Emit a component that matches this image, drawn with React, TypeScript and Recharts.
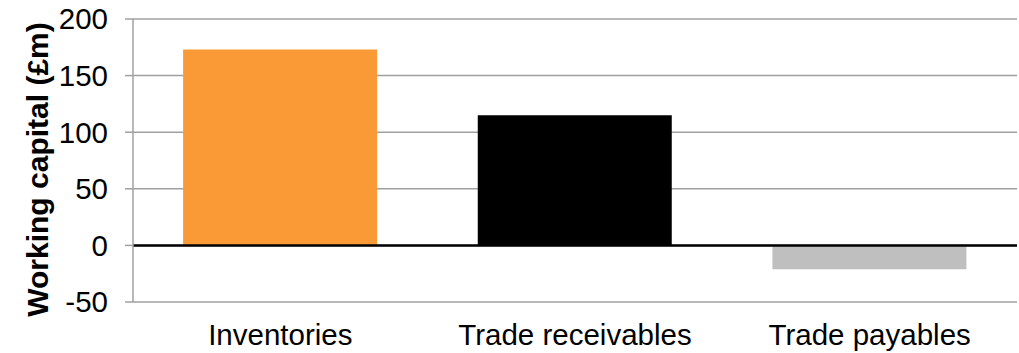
import React from "react";
import { BarChart, Bar, XAxis, YAxis, CartesianGrid, ReferenceLine, Cell, Label } from "recharts";

const categories = ["Inventories", "Trade receivables", "Trade payables"];
const values = [173, 115, -21];
const yTicks = [-50, 0, 50, 100, 150, 200];
const barColors = ["#FA9A36", "#000000", "#BFBFBF"];

const data = categories.map((name, i) => ({ name, value: values[i] }));

const FONT = "'Liberation Sans', Arial, sans-serif";

export default function App() {
  return (
    <div style={{ position: "absolute", left: 0, top: 0, width: 1019, height: 353, background: "#fff" }}>
      <BarChart
        width={1019}
        height={353}
        data={data}
        margin={{ top: 19, right: 2, bottom: 0, left: 0 }}
        barCategoryGap="17%"
      >
        <CartesianGrid vertical={false} stroke="#A0A0A0" strokeWidth={1.5} />
        <XAxis
          dataKey="name"
          axisLine={false}
          tickLine={false}
          tickSize={0}
          tickMargin={22}
          height={51}
          interval={0}
          tick={{ fill: "#000", fontSize: 29.5, fontFamily: FONT }}
        />
        <YAxis
          width={133}
          domain={[-50, 200]}
          ticks={yTicks}
          interval={0}
          axisLine={{ stroke: "#A0A0A0", strokeWidth: 1.5 }}
          tickLine={{ stroke: "#A0A0A0", strokeWidth: 1.5 }}
          tickSize={8}
          tickMargin={17}
          tick={{ fill: "#000", fontSize: 29.5, fontFamily: FONT }}
        >
          <Label
            value="Working capital (£m)"
            angle={-90}
            position="center"
            dx={-29}
            dy={9}
            style={{ fill: "#000", fontSize: 30, fontWeight: "bold", fontFamily: FONT, textAnchor: "middle" }}
          />
        </YAxis>
        <Bar dataKey="value" isAnimationActive={false}>
          {data.map((d, i) => (
            <Cell key={d.name} fill={barColors[i]} />
          ))}
        </Bar>
        <ReferenceLine y={0} stroke="#000" strokeWidth={2.5} />
      </BarChart>
    </div>
  );
}
